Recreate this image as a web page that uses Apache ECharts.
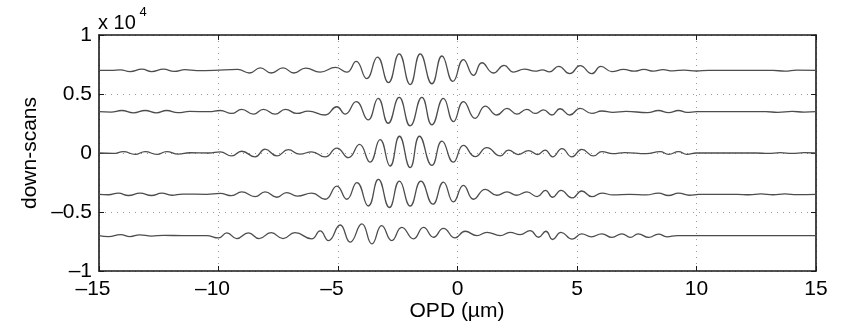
<!DOCTYPE html>
<html><head><meta charset="utf-8">
<script src="https://cdn.jsdelivr.net/npm/echarts@6/dist/echarts.min.js"></script>
<style>html,body{margin:0;padding:0;background:#fff}#c{width:841px;height:329px}</style>
</head><body><div id="c"></div>
<script>
// axis ticks
const xTicks = [-15, -10, -5, 0, 5, 10, 15];
const yTicks = [-10000, -5000, 0, 5000, 10000];
// trace baselines (offsets), top to bottom
const offsets = [7000, 3500, 0, -3500, -7000];
// trace 1 (top): OPD positions of extrema and deviation from baseline
const t1x = [-15,-14.5,-14.1,-13.7,-13.2,-12.8,-12.3,-11.85,-11.4,-10.9,-10.2,-9.2,-8.7,-8.25,-7.8,-7.3,-6.85,-6.35,-5.75,-5.1,-4.63,-4.24,-3.8,-3.35,-2.89,-2.44,-1.98,-1.56,-1.07,-0.65,-0.19,0.25,0.67,1.02,1.5,1.95,2.34,2.8,3.25,3.55,3.85,4.23,4.7,5.13,5.62,6.0,6.46,6.95,7.4,7.8,8.2,8.6,9.0,9.5,10.0,10.5,12.5,13.2,13.7,14.2,15];
const t1y = [0,0,40,-100,100,-100,100,-80,60,-20,0,80,-220,220,-220,220,-220,200,-150,250,-150,760,-700,1130,-1040,1400,-1200,1400,-1130,1220,-930,920,-420,650,-220,420,-140,100,-60,40,-120,340,-280,400,-280,340,-100,80,-60,80,-60,60,-40,30,-50,0,10,0,-60,30,0];
// trace 2
const t2x = [-15,-14.5,-14.05,-13.56,-13.07,-12.6,-12.17,-11.7,-11.2,-10.4,-9.93,-9.45,-9.03,-8.54,-8.12,-7.63,-7.2,-6.72,-6.25,-5.54,-5.05,-4.7,-4.24,-3.74,-3.32,-2.9,-2.44,-1.98,-1.49,-1.07,-0.59,-0.17,0.25,0.74,1.16,1.65,2.07,2.48,2.9,3.25,3.6,3.95,4.29,4.7,5.13,5.62,6.04,6.5,7.05,7.95,8.41,8.83,9.25,9.6,10.0,12.9,13.4,14.0,14.5,15];
const t2y = [0,-30,100,-100,100,-100,100,-80,20,0,100,-150,200,-200,200,-200,200,-150,50,-280,420,-200,850,-700,1130,-980,1210,-1200,1210,-1120,1130,-840,850,-560,480,-280,280,-200,200,-150,150,-280,250,-280,280,-150,60,-50,30,-80,100,-80,100,-60,0,0,-50,30,-40,0];
// trace 3
const t3x = [-15,-14.4,-13.98,-13.49,-13.07,-12.58,-12.17,-11.68,-11.2,-10.4,-9.93,-9.45,-9.03,-8.47,-8.05,-7.56,-7.08,-6.6,-6.1,-5.54,-5.05,-4.56,-4.1,-3.66,-3.24,-2.82,-2.43,-1.98,-1.59,-1.07,-0.65,-0.17,0.25,0.74,1.23,1.79,2.13,2.55,2.97,3.35,3.67,3.98,4.37,4.79,5.2,5.69,6.04,6.5,7.0,7.9,8.48,8.83,9.25,9.6,10.0,12.5,13.0,13.5,14.0,14.5,15];
const t3y = [0,-40,120,-120,120,-120,120,-100,20,0,100,-250,150,-330,330,-250,280,-100,100,-330,420,-400,730,-770,1130,-1100,1420,-1240,1420,-1050,1000,-770,640,-310,450,-240,240,-130,200,-130,250,-330,370,-330,310,-250,120,-60,40,-50,110,-110,110,-110,0,0,-40,30,-40,30,0];
// trace 4
const t4x = [-15,-14.6,-14.19,-13.77,-13.28,-12.8,-12.37,-11.96,-11.5,-10.5,-9.93,-9.45,-9.03,-8.47,-8.05,-7.56,-7.15,-6.7,-6.1,-5.54,-5.05,-4.63,-4.21,-3.73,-3.31,-2.85,-2.43,-1.98,-1.53,-1.03,-0.59,-0.17,0.25,0.67,1.16,1.65,2.07,2.48,2.9,3.33,3.68,3.98,4.33,4.79,5.2,5.62,6.04,6.5,7.2,7.9,8.41,8.83,9.25,9.7,10.1,11.7,12.2,12.7,13.2,13.7,14.2,15];
const t4y = [0,-40,100,-100,100,-100,100,-80,20,0,80,-120,200,-200,200,-250,150,-150,100,-420,700,-420,990,-990,1260,-1120,1120,-990,1120,-840,1040,-650,760,-420,420,-80,200,-80,200,-200,330,-250,330,-310,280,-200,100,-50,0,-50,100,-100,100,-80,0,0,-40,30,-40,30,-30,0];
// trace 5 (bottom)
const t5x = [-15,-14.6,-14.1,-13.7,-13.3,-12.8,-12.3,-11.5,-10.5,-10.0,-9.65,-9.24,-8.75,-8.3,-7.8,-7.3,-6.8,-6.1,-5.75,-5.4,-4.91,-4.49,-4.0,-3.58,-3.17,-2.75,-2.33,-1.84,-1.42,-1.0,-0.59,-0.1,0.32,0.81,1.23,1.79,2.2,2.62,3.04,3.39,3.7,3.98,4.33,4.8,5.2,5.6,6.04,6.46,6.88,7.23,7.56,8.0,8.41,8.76,9.2,15];
const t5y = [0,-80,80,-80,60,-40,20,0,0,-200,230,-250,230,-250,250,-250,250,-280,400,-420,900,-560,990,-700,840,-420,700,-280,700,-140,620,-200,370,0,280,0,280,80,420,-140,370,-330,280,-300,150,-100,150,-150,150,-150,150,-150,130,-100,0,0];

const traces = [[t1x, t1y], [t2x, t2y], [t3x, t3y], [t4x, t4y], [t5x, t5y]];
const FONT = '"Liberation Sans", Arial, Helvetica, sans-serif';
const FS = 21;

const chart = echarts.init(document.getElementById('c'), null, {renderer: 'canvas'});
const fmtY = v => { const t = v / 10000; return t < 0 ? '\u2013' + (-t) : String(t); };
const fmtX = v => v < 0 ? '{n|\u2013' + (-v) + '}{p| }' : '{n|' + v + '}';

const common = {
  type: 'value', axisLine: {show: true, onZero: false, lineStyle: {color: '#1a1a1a', width: 1.6}},
  axisTick: {show: true, inside: true, length: 5, lineStyle: {color: '#1a1a1a', width: 1}}
};

chart.setOption({
  animation: false,
  grid: {left: 99, right: 25, top: 35, bottom: 58, containLabel: false},
  xAxis: [
    Object.assign({}, common, {min: xTicks[0], max: xTicks[xTicks.length - 1], interval: 5, position: 'bottom',
      axisLabel: {margin: 8, formatter: fmtX, color: '#000',
        rich: {n: {fontSize: FS, fontFamily: FONT, color: '#000'}, p: {width: 12, fontSize: FS}}},
      splitLine: {show: true, lineStyle: {type: [1, 5], color: '#9a9a9a', width: 1}}}),
    Object.assign({}, common, {min: xTicks[0], max: xTicks[xTicks.length - 1], interval: 5, position: 'top',
      axisLabel: {show: false}, splitLine: {show: false}})
  ],
  yAxis: [
    Object.assign({}, common, {min: yTicks[0], max: yTicks[yTicks.length - 1], interval: 5000, position: 'left',
      axisLabel: {margin: 7, formatter: fmtY, color: '#000', fontSize: FS, fontFamily: FONT},
      splitLine: {show: true, lineStyle: {type: [1, 5], color: '#9a9a9a', width: 1}}}),
    Object.assign({}, common, {min: yTicks[0], max: yTicks[yTicks.length - 1], interval: 5000, position: 'right',
      axisLabel: {show: false}, splitLine: {show: false}})
  ],
  series: traces.map((t, k) => ({
    type: 'line', xAxisIndex: 0, yAxisIndex: 0,
    data: t[0].map((x, i) => [x, offsets[k] + t[1][i]]),
    smooth: 0.5, showSymbol: false, symbol: 'none',
    lineStyle: {color: '#4d4d4d', width: 1.3}
  })),
  graphic: [
    {type: 'text', x: 98, y: 23.5, style: {text: 'x 10', font: '20px ' + FONT, fill: '#000', textAlign: 'left', textVerticalAlign: 'middle'}},
    {type: 'text', x: 139.5, y: 12, style: {text: '4', font: '13px ' + FONT, fill: '#000', textAlign: 'left', textVerticalAlign: 'middle'}},
    {type: 'text', x: 30, y: 153, rotation: Math.PI / 2, style: {text: 'down-scans', font: FS + 'px ' + FONT, fill: '#000', textAlign: 'center', textVerticalAlign: 'middle'}},
    {type: 'text', x: 457, y: 311, style: {text: 'OPD (\u00b5m)', font: FS + 'px ' + FONT, fill: '#000', textAlign: 'center', textVerticalAlign: 'middle'}}
  ]
});
</script>
</body></html>
